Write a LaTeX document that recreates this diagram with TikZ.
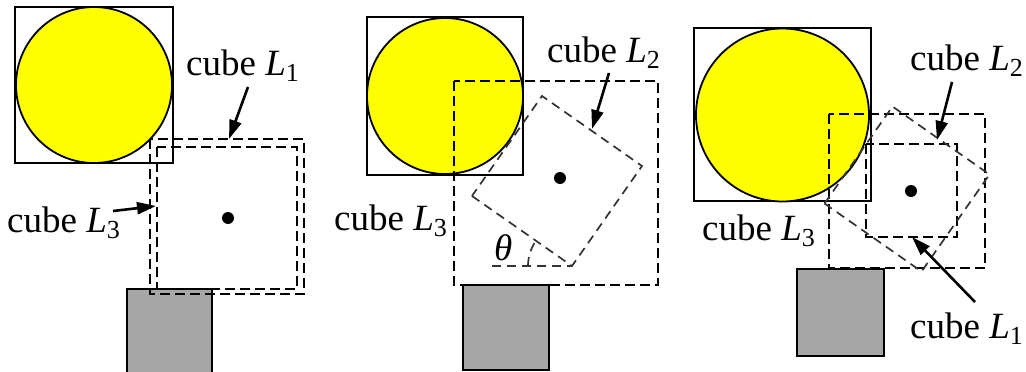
\documentclass[tikz,border=0pt]{standalone}
\usepackage{fontspec}
\setmainfont{Liberation Serif}
\usetikzlibrary{arrows.meta}
\definecolor{sunyellow}{HTML}{FFFF00}
\definecolor{blockgray}{HTML}{A6A6A6}
\newcommand{\cubeL}[1]{cube {\itshape L}\raisebox{-6pt}{\fontsize{26}{26}\selectfont #1}}
\begin{document}
\begin{tikzpicture}[x=1pt,y=-1pt,
  lbl/.style={anchor=base west,inner sep=0pt,font=\fontsize{37}{43}\selectfont},
  arr/.style={line width=2.6pt,-{Triangle[length=19pt,width=12pt]}},
  solidsq/.style={draw=black,line width=2pt},
  ball/.style={draw=black,line width=1.8pt,fill=sunyellow},
  block/.style={draw=black,line width=2pt,fill=blockgray},
  dsh/.style={draw=black,line width=2pt,dash pattern=on 10pt off 5pt},
  rotsq/.style={draw=black!80,line width=1.7pt,dash pattern=on 9pt off 6pt},
  dot/.style={fill=black}]
\clip (0,0) rectangle (1026,372);
% ---------- panel 1 ----------
\draw[solidsq] (15,7) rectangle (173,163);
\draw[ball] (94,85) circle[radius=78pt];
\draw[block] (127,289) rectangle (212,385);
\draw[dsh] (150,139) rectangle (304,294);
\draw[dsh] (157,147) rectangle (297,289);
\fill[dot] (228,218) circle[radius=6pt];
\node[lbl] (p1L1) at (186,75) {\cubeL{1}};
\node[lbl] (p1L3) at (7,232) {\cubeL{3}};
\coordinate (p1a1s) at (248,87);  \coordinate (p1a1e) at (229,139);
\coordinate (p1a3s) at (113,211); \coordinate (p1a3e) at (156,206);
\draw[arr] (p1a1s) -- (p1a1e);
\draw[arr] (p1a3s) -- (p1a3e);
% ---------- panel 2 ----------
\draw[solidsq] (367,17) rectangle (523,175);
\draw[ball] (445,96) circle[radius=78pt];
\draw[block] (463,285) rectangle (549,370);
\draw[dsh] (454,81) rectangle (658,285);
\draw[rotsq] (472,196) -- (572,266) -- (642,166) -- (542,96) -- cycle;
\draw[rotsq] (492,266) -- (572,266);
\draw[rotsq] (528,266) arc[start angle=180,end angle=145,radius=44pt];
\fill[dot] (560,178) circle[radius=6pt];
\node[lbl] (p2L2) at (547,62) {\cubeL{2}};
\node[lbl] (p2L3) at (334,230) {\cubeL{3}};
\node[lbl] (p2th) at (494,260) {\itshape θ};
\coordinate (p2a2s) at (609,73); \coordinate (p2a2e) at (592,129);
\draw[arr] (p2a2s) -- (p2a2e);
% ---------- panel 3 ----------
\draw[solidsq] (694,28) rectangle (871,201);
\draw[ball] (782.5,115) circle[radius=86.5pt];
\draw[block] (797,269) rectangle (884,356);
\draw[dsh] (829,114) rectangle (985,268);
\draw[dsh] (866,144) rectangle (957,237);
\draw[rotsq] (824.5,203.5) -- (921.5,271.5) -- (989.5,174.5) -- (892.5,106.5) -- cycle;
\fill[dot] (911,191) circle[radius=6pt];
\node[lbl] (p3L2) at (910,70) {\cubeL{2}};
\node[lbl] (p3L3) at (702,240) {\cubeL{3}};
\node[lbl] (p3L1) at (910,338) {\cubeL{1}};
\coordinate (p3a2s) at (952,82);  \coordinate (p3a2e) at (937,140);
\coordinate (p3a1s) at (975,302); \coordinate (p3a1e) at (912,237);
\draw[arr] (p3a2s) -- (p3a2e);
\draw[arr] (p3a1s) -- (p3a1e);
\end{tikzpicture}
\end{document}
